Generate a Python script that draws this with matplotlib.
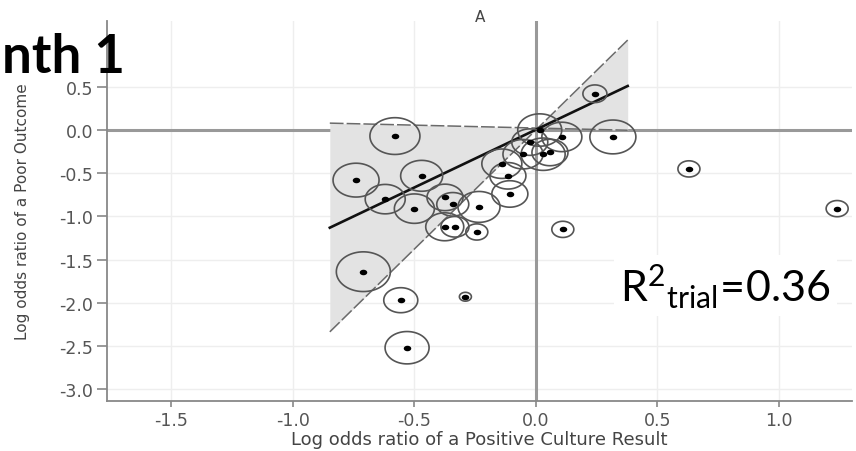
import numpy as np
import matplotlib
matplotlib.use("Agg")
import matplotlib.pyplot as plt
from matplotlib.path import Path

# ---- data ----
x_culture = [-0.58, -0.74, -0.47, -0.62, -0.50, -0.374, -0.342, -0.375, -0.333,
             -0.243, -0.234, -0.14, -0.115, -0.107, 0.243, 0.317, 0.016, 0.107,
             0.03, 0.058, -0.053, -0.025, -0.71, -0.556, -0.29, -0.53, 0.111,
             0.63, 1.24]
y_outcome = [-0.07, -0.58, -0.53, -0.80, -0.91, -0.78, -0.86, -1.12, -1.12,
             -1.18, -0.89, -0.39, -0.53, -0.74, 0.42, -0.08, 0.0, -0.08,
             -0.28, -0.26, -0.28, -0.14, -1.64, -1.97, -1.93, -2.52, -1.15,
             -0.45, -0.91]
trial_weight = [25, 23, 21, 20, 20, 18, 16, 19, 14,
                11, 21, 20, 18, 18, 12, 23, 22, 20,
                22, 18, 20, 18, 27, 17, 6, 22, 11,
                11, 11]

fit_intercept, fit_slope = 0.004, 1.338
band_x_range = [-0.848, 0.378]
steep_intercept, steep_slope = 0.0, 2.755
flat_intercept, flat_slope = 0.023, -0.067

x_ticks = [-1.5, -1.0, -0.5, 0.0, 0.5, 1.0]
y_ticks = [-3.0, -2.5, -2.0, -1.5, -1.0, -0.5, 0.0, 0.5]
x_label = "Log odds ratio of a Positive Culture Result"
y_label = "Log odds ratio of a Poor Outcome"
panel_title = "A"
overlay_title = "nth 1"

# ---- figure ----
plt.rcParams["axes.unicode_minus"] = False
plt.rcParams["mathtext.fontset"] = "custom"
plt.rcParams["mathtext.rm"] = "Lato"
plt.rcParams["mathtext.it"] = "Lato:italic"
plt.rcParams["mathtext.bf"] = "Lato:bold"

fig = plt.figure(figsize=(8.56, 4.52), dpi=100)
ax = fig.add_axes([0.125, 0.1106, 0.870, 0.8407])
ax.set_xlim(-1.765, 1.30)
ax.set_ylim(-3.137, 1.262)

gray_txt = "#555555"
ax.set_xticks(x_ticks)
ax.set_yticks(y_ticks)
ax.set_xticklabels([f"{v:.1f}" for v in x_ticks])
ax.set_yticklabels([f"{v:.1f}" for v in y_ticks])
ax.tick_params(axis="x", length=4, width=1.2, color="#888888", labelcolor=gray_txt,
               labelsize=12.5, pad=3)
ax.tick_params(axis="y", length=7, width=1.2, color="#888888", labelcolor=gray_txt,
               labelsize=12.5, pad=3)
ax.grid(True, color="#eeeeee", linewidth=1.0, zorder=0)
ax.set_axisbelow(True)
for side in ["top", "right"]:
    ax.spines[side].set_visible(False)
for side in ["left", "bottom"]:
    ax.spines[side].set_color("#888888")
    ax.spines[side].set_linewidth(1.3)

# reference lines
ax.axhline(0, color="#999999", linewidth=2.2, zorder=1)
ax.axvline(0, color="#999999", linewidth=2.2, zorder=1)

# prediction band
bx = np.linspace(band_x_range[0], band_x_range[1], 200)
steep = steep_intercept + steep_slope * bx
flat = flat_intercept + flat_slope * bx
ax.fill_between(bx, steep, flat, color="#e3e3e3", linewidth=0, zorder=2)
ax.plot(bx, steep, color="#6a6a6a", linewidth=1.1, dashes=(9, 2), zorder=3)
ax.plot(bx, flat, color="#6a6a6a", linewidth=1.1, dashes=(9, 2), zorder=3)

# regression line
ax.plot(bx, fit_intercept + fit_slope * bx, color="#111111", linewidth=1.9, zorder=4)

# weighted points (picture is horizontally stretched -> elliptic markers)
t = np.linspace(0, 2 * np.pi, 120)
ell = Path(np.column_stack([1.36 * np.cos(t), np.sin(t)]), closed=True)
w = np.asarray(trial_weight, dtype=float)
sizes = (2 * w * 0.72) ** 2
ax.scatter(x_culture, y_outcome, s=sizes, marker=ell, facecolors="none",
           edgecolors="#555555", linewidths=1.2, zorder=5)
ax.scatter(x_culture, y_outcome, s=(7.5 * 0.72) ** 2, marker=ell, color="#000000",
           linewidths=0, zorder=6)

ax.set_xlabel(x_label, fontsize=13, color="#444444")
ax.set_ylabel(y_label, fontsize=11, color="#444444")
ax.xaxis.set_label_coords(0.5, -0.075)
ax.yaxis.set_label_coords(-0.103, 0.5)
fig.text(480 / 856, 1 - 17 / 452, panel_title, fontsize=11,
         color="#444444", ha="center", va="center")

# overlays
fig.text(2 / 856, 1 - 73 / 452, overlay_title, fontsize=38, fontweight="bold",
         family="Lato", ha="left", va="baseline", color="black")
fig.text(620 / 856, 1 - 302 / 452,
         r"$\mathrm{R}^{2}{}_{\mathrm{trial}}\!=\!\mathrm{0.36}$",
         fontsize=31, ha="left", va="baseline", color="black",
         bbox=dict(boxstyle="square,pad=0.15", facecolor="white", edgecolor="none"))

fig.savefig("out.png", dpi=100)
